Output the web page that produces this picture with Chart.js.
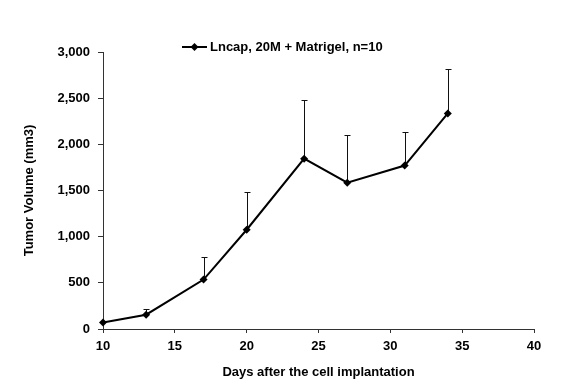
<!DOCTYPE html>
<html>
<head>
<meta charset="utf-8">
<script src="https://cdn.jsdelivr.net/npm/chart.js@4"></script>
<style>
  body { margin: 0; background: #fff; }
  #wrap { width: 561px; height: 385px; }
</style>
</head>
<body>
<div id="wrap"><canvas id="tumor-chart" width="561" height="385"></canvas></div>
<script>
const days = [10, 13, 17, 20, 24, 27, 31, 34];
const volume = [70, 155, 535, 1075, 1845, 1585, 1770, 2335];
const errorUp = [0, 60, 240, 410, 630, 520, 360, 485];
const yTicks = [0, 500, 1000, 1500, 2000, 2500, 3000];
const seriesName = 'Lncap, 20M + Matrigel, n=10';

const boldFont = 'bold 13px "Liberation Sans", Arial, sans-serif';

// error bars (upper only) drawn through the scales
const errorBars = {
    id: 'errorBars',
    beforeDatasetsDraw(chart) {
        const { ctx, scales: { x, y } } = chart;
        ctx.save();
        ctx.strokeStyle = '#111';
        ctx.lineWidth = 1;
        days.forEach((d, i) => {
            if (!errorUp[i]) return;
            const px = Math.round(x.getPixelForValue(d)) + 0.5;
            const y0 = y.getPixelForValue(volume[i]);
            const y1 = Math.round(y.getPixelForValue(volume[i] + errorUp[i])) + 0.5;
            ctx.beginPath();
            ctx.moveTo(px, y0);
            ctx.lineTo(px, y1);
            ctx.moveTo(px - 3, y1);
            ctx.lineTo(px + 3, y1);
            ctx.stroke();
        });
        ctx.restore();
    }
};

// legend drawn like the original: line with diamond, then bold text
const legendMark = {
    id: 'legendMark',
    afterDraw(chart) {
        const ctx = chart.ctx;
        const ly = 47;
        ctx.save();
        ctx.strokeStyle = '#000';
        ctx.lineWidth = 2;
        ctx.beginPath();
        ctx.moveTo(182, ly);
        ctx.lineTo(207, ly);
        ctx.stroke();
        ctx.fillStyle = '#000';
        ctx.beginPath();
        ctx.moveTo(194.5, ly - 4);
        ctx.lineTo(198.5, ly);
        ctx.lineTo(194.5, ly + 4);
        ctx.lineTo(190.5, ly);
        ctx.closePath();
        ctx.fill();
        ctx.font = boldFont;
        ctx.textBaseline = 'middle';
        ctx.fillText(seriesName, 210, ly);
        ctx.restore();
    }
};

new Chart(document.getElementById('tumor-chart'), {
    type: 'line',
    data: {
        datasets: [{
            label: seriesName,
            data: days.map((d, i) => ({ x: d, y: volume[i] })),
            borderColor: '#000',
            backgroundColor: '#000',
            borderWidth: 2,
            pointStyle: 'rectRot',
            pointRadius: 4,
            pointBorderWidth: 0,
            tension: 0,
            clip: false
        }]
    },
    options: {
        responsive: false,
        animation: false,
        layout: { padding: { top: 52, right: 27, bottom: 0, left: 0 } },
        plugins: {
            legend: { display: false },
            tooltip: { enabled: false }
        },
        scales: {
            x: {
                type: 'linear',
                min: 10,
                max: 40,
                ticks: {
                    stepSize: 5,
                    color: '#000',
                    font: { family: '"Liberation Sans", Arial', size: 13, weight: 'bold' },
                    padding: 6
                },
                grid: { drawOnChartArea: false, color: '#333', tickLength: 4 },
                border: { color: '#333', width: 1 },
                title: {
                    display: true,
                    text: 'Days after the cell implantation',
                    color: '#000',
                    font: { family: '"Liberation Sans", Arial', size: 13, weight: 'bold' },
                    padding: { top: 0, bottom: 5 }
                },
                afterFit(scale) { scale.height = 56; }
            },
            y: {
                min: 0,
                max: 3000,
                afterBuildTicks(scale) { scale.ticks = yTicks.map(v => ({ value: v })); },
                ticks: {
                    color: '#000',
                    font: { family: '"Liberation Sans", Arial', size: 13, weight: 'bold' },
                    padding: 8,
                    callback: v => v.toLocaleString('en-US')
                },
                grid: { drawOnChartArea: false, color: '#333', tickLength: 5 },
                border: { color: '#333', width: 1 },
                title: {
                    display: true,
                    text: 'Tumor Volume (mm3)',
                    color: '#000',
                    font: { family: '"Liberation Sans", Arial', size: 13, weight: 'bold' },
                    padding: { top: 22, bottom: 0 }
                },
                afterFit(scale) { scale.width = 103; }
            }
        }
    },
    plugins: [errorBars, legendMark]
});
</script>
</body>
</html>
